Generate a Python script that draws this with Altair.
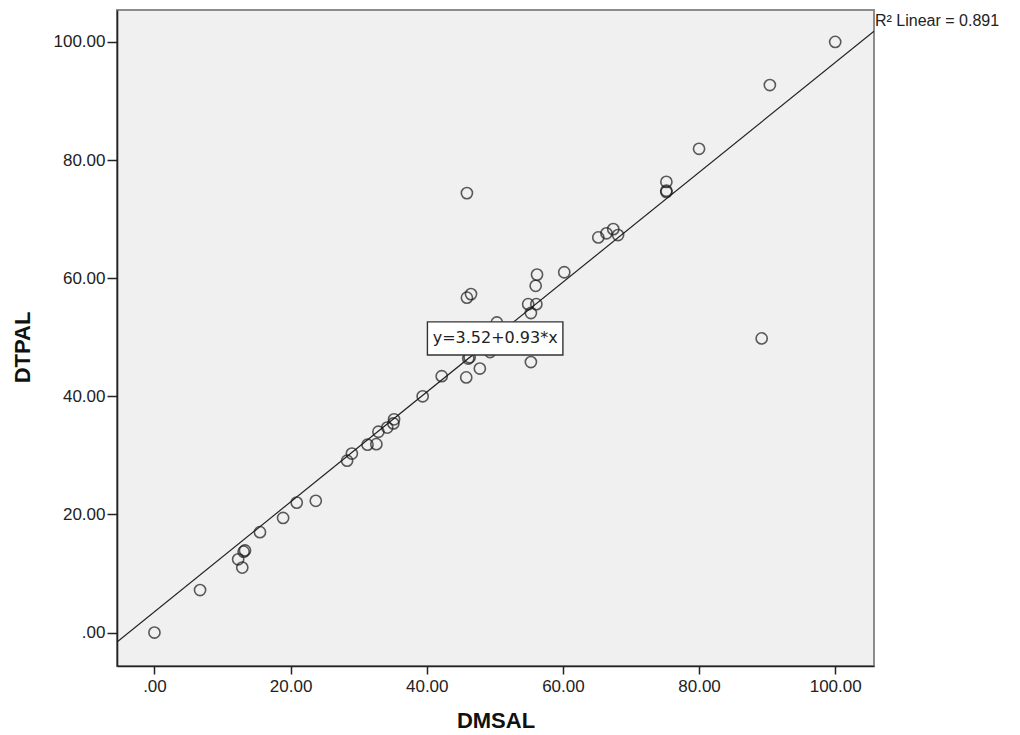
import altair as alt
import pandas as pd

# Observed scatter values (DMSAL, DTPAL)
dmsal = [0.0, 6.7, 12.3, 12.9, 13.1, 13.3, 15.5, 18.9, 20.9, 23.7,
         28.3, 29.0, 31.3, 32.6, 32.9, 34.2, 35.1, 35.2, 39.4, 42.2,
         45.8, 46.1, 46.3, 47.8, 45.9, 45.9, 46.5, 49.3, 49.5, 50.3,
         54.9, 56.1, 55.3, 56.0, 56.2, 60.2, 55.3, 65.2, 66.4, 67.4,
         68.1, 75.2, 75.2, 75.2, 80.0, 90.4, 100.0, 89.2]
dtpal = [0.0, 7.2, 12.4, 11.0, 13.7, 13.9, 17.0, 19.4, 22.0, 22.3,
         29.1, 30.3, 31.8, 31.9, 34.0, 34.7, 35.4, 36.1, 40.0, 43.4,
         43.2, 46.4, 46.6, 44.7, 74.4, 56.7, 57.3, 47.5, 48.0, 52.5,
         55.6, 55.6, 54.1, 58.7, 60.6, 61.0, 45.8, 66.9, 67.6, 68.3,
         67.3, 76.3, 74.8, 74.6, 81.9, 92.7, 100.0, 49.8]

# Fit line coefficients (from the chart's annotation)
intercept = 3.52
slope = 0.93
r2_text = "R\u00b2 Linear = 0.891"
eq_text = "y=3.52+0.93*x"

x_domain = [-5.5, 105.7]
y_domain = [-5.66, 105.4]
tick_vals = [0, 20, 40, 60, 80, 100]

# Annotation placement (data units)
eq_box_x = [40.1, 60.0]
eq_box_y = [47.0, 52.6]
r2_pos = [105.7, 102.7]

pts = pd.DataFrame({"x": dmsal, "y": dtpal})
fit = pd.DataFrame({"x": x_domain, "y": [intercept + slope * v for v in x_domain]})
box = pd.DataFrame({"x": [eq_box_x[0]], "x2": [eq_box_x[1]],
                    "y": [eq_box_y[0]], "y2": [eq_box_y[1]]})
eq = pd.DataFrame({"x": [sum(eq_box_x) / 2], "y": [sum(eq_box_y) / 2], "t": [eq_text]})
r2 = pd.DataFrame({"x": [r2_pos[0]], "y": [r2_pos[1]], "t": [r2_text]})

label_expr = "datum.value == 0 ? '.00' : format(datum.value, '.2f')"


def X(field="x"):
    return alt.X(field, type="quantitative", title="DMSAL",
                 scale=alt.Scale(domain=x_domain, nice=False, zero=False),
                 axis=alt.Axis(values=tick_vals, labelExpr=label_expr, grid=False,
                               tickSize=8, labelPadding=4,
                               titleY=61, titleBaseline="alphabetic"))


def Y(field="y"):
    return alt.Y(field, type="quantitative", title="DTPAL",
                 scale=alt.Scale(domain=y_domain, nice=False, zero=False),
                 axis=alt.Axis(values=tick_vals, labelExpr=label_expr, grid=False,
                               tickSize=10, labelPadding=2,
                               titleX=-95, titleY=337, titleAngle=-90,
                               titleAlign="center", titleBaseline="middle"))


line = alt.Chart(fit).mark_line(color="#222222", strokeWidth=1.2, clip=True).encode(x=X(), y=Y())

points = alt.Chart(pts).mark_point(shape="circle", filled=False, size=125,
                                   stroke="#1a1a1a", strokeWidth=1.6).encode(x=X(), y=Y())

rect = alt.Chart(box).mark_rect(fill="white", stroke="#333333", strokeWidth=1.4).encode(
    x=X(), x2="x2", y=Y(), y2="y2")

eq_label = alt.Chart(eq).mark_text(font="DejaVu Sans", fontSize=16, color="#222222",
                                   align="center", baseline="middle").encode(
    x=X(), y=Y(), text="t:N")

r2_label = alt.Chart(r2).mark_text(font="Liberation Sans", fontSize=16, color="#222222",
                                   align="left", baseline="alphabetic", dx=1,
                                   clip=False).encode(
    x=X(), y=Y(), text="t:N")

chart = alt.layer(line, points, rect, eq_label, r2_label).properties(
    width=757, height=656,
    autosize=alt.AutoSizeParams(type="none"),
    padding={"left": 109, "top": 2, "right": 136, "bottom": 68},
    background="white",
).configure_view(
    fill="#f0f0f0", stroke="#8c8c8c", strokeWidth=2
).configure_axis(
    domainColor="#222222", domainWidth=1.6, tickColor="#222222", tickWidth=1.5,
    labelColor="#222222", labelFont="Liberation Sans", labelFontSize=17,
    titleColor="#111111", titleFont="Liberation Sans", titleFontSize=22,
    titleFontWeight="bold"
)

chart.save("out.html", embed_options={"renderer": "svg", "actions": False})
